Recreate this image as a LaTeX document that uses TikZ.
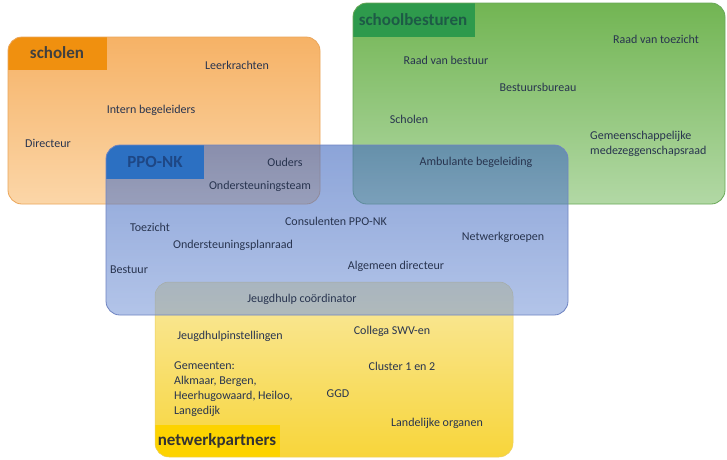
\documentclass[tikz,border=0pt]{standalone}
\usepackage{fontspec}
\setmainfont{Carlito}
\begin{document}
\begin{tikzpicture}[x=1pt,y=-1pt,
  txt/.style={inner sep=0pt,text=bodytext,font=\fontsize{12}{14.8}\selectfont},
  lbl/.style={inner sep=0pt,font=\fontsize{17}{20}\selectfont\bfseries},
  boxline/.style={line width=0.8pt,rounded corners=14pt}]
\definecolor{bodytext}{HTML}{28344F}
\definecolor{orTop}{HTML}{F6B266}
\definecolor{orBot}{HTML}{FBD6A8}
\definecolor{orLbl}{HTML}{F0900F}
\definecolor{orLine}{HTML}{EBA65A}
\definecolor{grTop}{HTML}{72B553}
\definecolor{grBot}{HTML}{B2D8A5}
\definecolor{grLbl}{HTML}{2E9A4C}
\definecolor{grLine}{HTML}{6AA858}
\definecolor{grTxt}{HTML}{1D5A46}
\definecolor{blTop}{HTML}{4068BF}
\definecolor{blBot}{HTML}{809DDA}
\definecolor{blLbl}{HTML}{2C70C2}
\definecolor{blLine}{HTML}{6F84C2}
\definecolor{blTxt}{HTML}{1E4785}
\definecolor{ylTop}{HTML}{F9E9A0}
\definecolor{ylBot}{HTML}{F8D53A}
\definecolor{ylLbl}{HTML}{FDD300}
\definecolor{ylLine}{HTML}{EDD060}
\useasboundingbox (0,0) rectangle (727,459);
\fill[white] (0,0) rectangle (727,459);

% scholen
\shade[top color=orTop,bottom color=orBot] [rounded corners=14pt] (8,37) rectangle (320,204);
\begin{scope}
  \clip[rounded corners=14pt] (8,37) rectangle (320,204);
  \fill[orLbl] (8,37) rectangle (107,70);
\end{scope}
\draw[boxline,orLine] (8,37) rectangle (320,204);

% schoolbesturen
\shade[top color=grTop,bottom color=grBot] [rounded corners=14pt] (353,3) rectangle (725,204);
\begin{scope}
  \clip[rounded corners=14pt] (353,3) rectangle (725,204);
  \fill[grLbl] (353,3) rectangle (475,37);
\end{scope}
\draw[boxline,grLine] (353,3) rectangle (725,204);

% netwerkpartners
\shade[top color=ylTop,bottom color=ylBot] [rounded corners=14pt] (155,282) rectangle (513,457);
\begin{scope}
  \clip[rounded corners=14pt] (155,282) rectangle (513,457);
  \fill[ylLbl] (155,425) rectangle (280,457);
\end{scope}
\draw[boxline,ylLine,line width=0.5pt] (155,282) rectangle (513,457);

% PPO-NK
\shade[top color=blTop,bottom color=blBot,fill opacity=0.6] [rounded corners=14pt] (106,145) rectangle (568,315);
\begin{scope}
  \clip[rounded corners=14pt] (106,145) rectangle (568,315);
  \fill[blLbl] (106,145) rectangle (204,179);
\end{scope}
\draw[boxline,blLine] (106,145) rectangle (568,315);

% labels
\node[lbl,text=black!75] (lscholen) at (57,53) {scholen};
\node[lbl,text=grTxt] (lbesturen) at (413,20) {schoolbesturen};
\node[lbl,text=blTxt] (lppo) at (155,162) {PPO-NK};
\node[lbl,text=black!80] (lnetwerk) at (217,441) {netwerkpartners};

% scholen texts
\node[txt] (leerkr) at (237,65) {Leerkrachten};
\node[txt] (intern) at (151,110) {Intern begeleiders};
\node[txt] (direct) at (48,143) {Directeur};

% schoolbesturen texts
\node[txt] (rvt) at (656,39) {Raad van toezicht};
\node[txt] (rvb) at (446,60) {Raad van bestuur};
\node[txt] (bureau) at (538,87) {Bestuursbureau};
\node[txt] (scholen2) at (409,119) {Scholen};
\node[txt,align=left,anchor=west] (gmr) at (590,144) {Gemeenschappelijke\\medezeggenschapsraad};
\node[txt] (ambul) at (476,162) {Ambulante begeleiding};

% PPO-NK texts
\node[txt] (ouders) at (285,162) {Ouders};
\node[txt] (ost) at (260,186) {Ondersteuningsteam};
\node[txt] (toez) at (150,227) {Toezicht};
\node[txt] (consul) at (336,221) {Consulenten PPO-NK};
\node[txt] (netwg) at (503,237) {Netwerkgroepen};
\node[txt] (osplan) at (233,245) {Ondersteuningsplanraad};
\node[txt] (bestuur) at (129,270) {Bestuur};
\node[txt] (algdir) at (396,266) {Algemeen directeur};
\node[txt] (jeugdc) at (302,299) {Jeugdhulp coördinator};

% netwerkpartners texts
\node[txt] (jeugdi) at (230,336) {Jeugdhulpinstellingen};
\node[txt] (collega) at (392,331) {Collega SWV-en};
\node[txt] (cluster) at (402,366) {Cluster 1 en 2};
\node[txt,align=left,anchor=north west] (gemeenten) at (174,362) {Gemeenten:\\Alkmaar, Bergen,\\Heerhugowaard, Heiloo,\\Langedijk};
\node[txt] (ggd) at (338,394) {GGD};
\node[txt] (landel) at (437,423) {Landelijke organen};
\end{tikzpicture}
\end{document}
